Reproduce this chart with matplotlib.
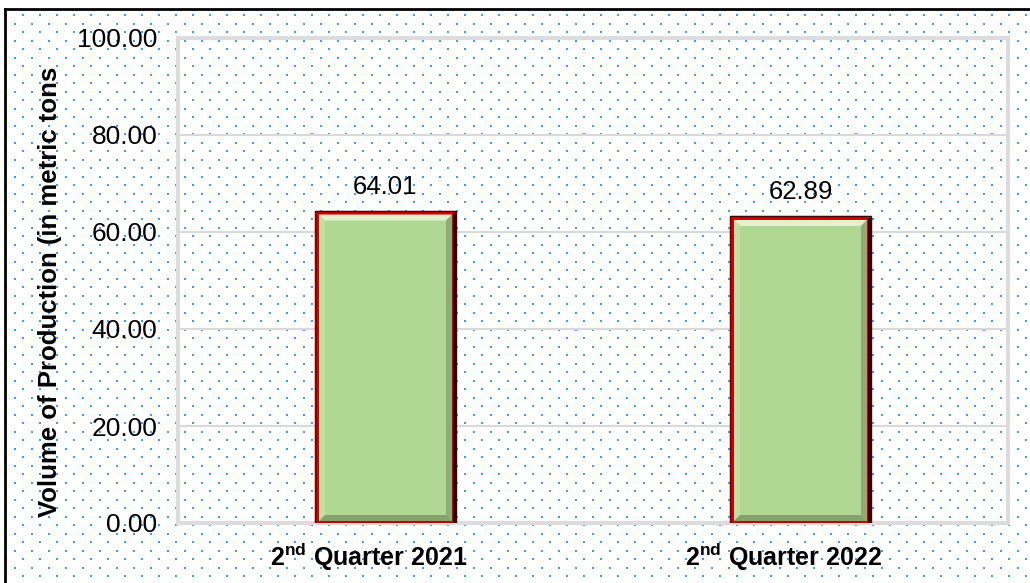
import numpy as np
import matplotlib.pyplot as plt
from matplotlib.patches import Polygon, Rectangle
from matplotlib.lines import Line2D
from matplotlib.transforms import ScaledTranslation

plt.rcParams['font.family'] = ['Liberation Sans', 'DejaVu Sans']
plt.rcParams['mathtext.fontset'] = 'custom'
plt.rcParams['mathtext.rm'] = 'Liberation Sans'
plt.rcParams['mathtext.bf'] = 'Liberation Sans:bold'
plt.rcParams['mathtext.default'] = 'bf'

categories = ['2021', '2022']
values = [64.01, 62.89]
yticks = [0, 20, 40, 60, 80, 100]

W, H = 1030, 583
fig = plt.figure(figsize=(W / 100, H / 100), dpi=100)

# dotted background over whole figure
bg = fig.add_axes([0, 0, 1, 1], zorder=0)
bg.set_xlim(0, W)
bg.set_ylim(H, 0)
bg.axis('off')
xs, ys = [], []
row = 0
for y in np.arange(15, H, 8.5):
    off = 0 if row % 2 == 0 else 8.5
    for x in np.arange(6 + off, W, 17):
        xs.append(x)
        ys.append(y)
    row += 1
bg.scatter(xs, ys, s=3.5, marker='s', color='#3d9bff', linewidths=0)
fig.add_artist(Line2D([5 / W, 5 / W], [0, 1 - 9 / H], color='black', lw=2, transform=fig.transFigure))
fig.add_artist(Line2D([5 / W, 1], [1 - 9 / H, 1 - 9 / H], color='black', lw=2, transform=fig.transFigure))

ax = fig.add_axes([178 / W, 1 - 523 / H, 830 / W, 485 / H], zorder=1)
ax.set_facecolor('none')
x = np.arange(len(values))
bw = 0.33
ax.set_xlim(-0.5, 1.5)
ax.set_ylim(0, 100)
ax.set_yticks(yticks)
ax.set_yticklabels([f'{t:.2f}' for t in yticks], fontsize=19)
ax.yaxis.grid(True, color='#d9d9d9', lw=1.5)
ax.set_axisbelow(True)
ax.tick_params(axis='both', length=0)
ax.tick_params(axis='y', pad=15)
ax.tick_params(axis='x', pad=13)
for s in ax.spines.values():
    s.set_color('#dcdcdc')
    s.set_linewidth(3)

px = 2 / 830      # data units per pixel in x
py = 100 / 485    # data units per pixel in y
bars = ax.bar(x, values, width=bw, color='#b0d892', edgecolor='#d40000', linewidth=3, zorder=3)
for b, v in zip(bars, values):
    x0, x1 = b.get_x(), b.get_x() + b.get_width()
    # dark outer outline
    ax.add_patch(Rectangle((x0 - 2 * px, 0), x1 - x0 + 4 * px, v + 2 * py, fill=False,
                           edgecolor='#3a0505', lw=1, zorder=4))
    ax.add_patch(Rectangle((x1 - 0.5 * px, 0), 2.5 * px, v, color='#3a0000', lw=0, zorder=4))
    ax.add_patch(Rectangle((x0 - 2 * px, 0), 2 * px, v, color='#8a0000', lw=0, zorder=4))
    # inner bevel
    ix0, ix1, iy0, iy1 = x0 + 2 * px, x1 - 2 * px, 0 + 2 * py, v - 2 * py
    dx, dy = 6 * px, 6 * py
    ax.add_patch(Polygon([[ix0, iy1], [ix1, iy1], [ix1 - dx, iy1 - dy], [ix0 + dx, iy1 - dy]],
                         closed=True, color='#e2f2cc', lw=0, zorder=4))
    ax.add_patch(Polygon([[ix0, iy0], [ix0, iy1], [ix0 + dx, iy1 - dy], [ix0 + dx, iy0 + dy]],
                         closed=True, color='#c2e0a6', lw=0, zorder=4))
    ax.add_patch(Polygon([[ix1, iy0], [ix1, iy1], [ix1 - dx, iy1 - dy], [ix1 - dx, iy0 + dy]],
                         closed=True, color='#8fab78', lw=0, zorder=4))
    ax.add_patch(Polygon([[ix0, iy0], [ix1, iy0], [ix1 - dx, iy0 + dy], [ix0 + dx, iy0 + dy]],
                         closed=True, color='#86a06e', lw=0, zorder=4))
    ax.annotate(f'{v:.2f}', (b.get_x() + b.get_width() / 2, v), xytext=(0, 10),
                textcoords='offset points', ha='center', va='bottom', fontsize=18.5)

ax.set_xticks(x)
ax.set_xticklabels([r'$2^{nd}$ Quarter ' + c for c in categories], fontsize=18, fontweight='bold')
shift = ScaledTranslation(-17 / 100, 0, fig.dpi_scale_trans)
for lab in ax.get_xticklabels():
    lab.set_transform(lab.get_transform() + shift)
fig.text(50 / W, 1 - 292 / H, 'Volume of Production (in metric tons', rotation=90,
         ha='center', va='center', fontsize=18.5, fontweight='bold')

fig.savefig('out.png', dpi=100)
